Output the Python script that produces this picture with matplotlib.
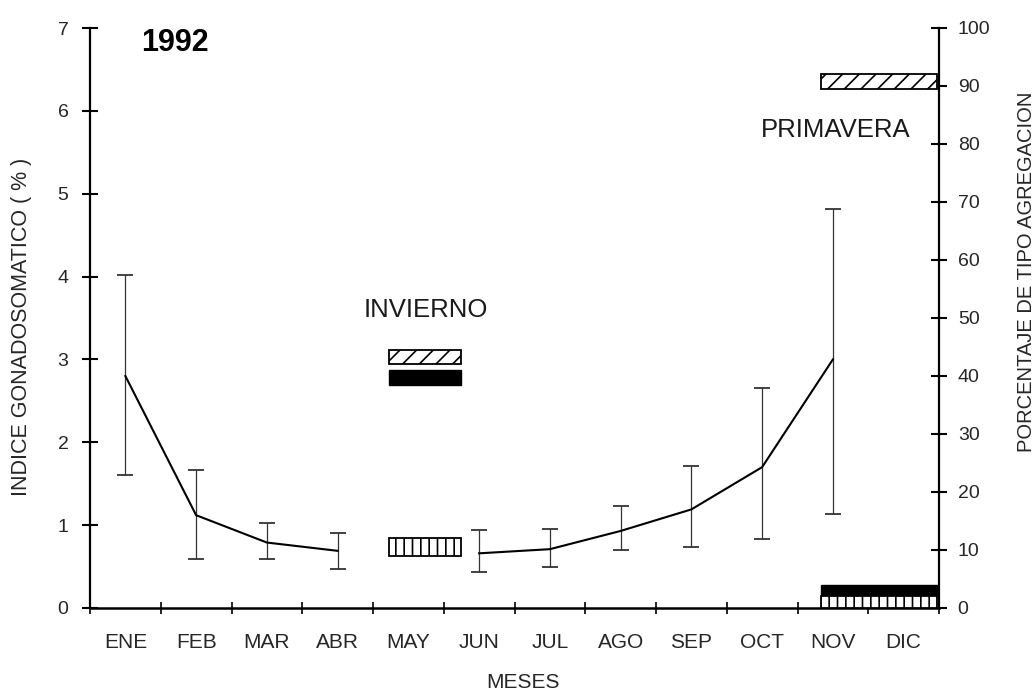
import numpy as np
import matplotlib
matplotlib.use("Agg")
import matplotlib.pyplot as plt

plt.rcParams["font.family"] = ["Liberation Sans", "DejaVu Sans"]
plt.rcParams["hatch.linewidth"] = 1.2

# Monthly gonadosomatic index (%), mean with upper/lower limits
months = ["ENE", "FEB", "MAR", "ABR", "MAY", "JUN",
          "JUL", "AGO", "SEP", "OCT", "NOV", "DIC"]
igs_mean = [2.80, 1.12, 0.79, 0.69, np.nan, 0.66, 0.71, 0.93, 1.19, 1.70, 3.00, np.nan]
igs_upper = [4.02, 1.67, 1.03, 0.91, np.nan, 0.94, 0.95, 1.23, 1.71, 2.65, 4.81, np.nan]
igs_lower = [1.61, 0.59, 0.59, 0.47, np.nan, 0.43, 0.50, 0.70, 0.74, 0.83, 1.14, np.nan]

# Percentage of each aggregation type per season (right axis)
seasons = ["INVIERNO", "PRIMAVERA"]
season_start = [4.23, 10.33]
season_end = [5.24, 11.97]
diag_low = [42.0, 89.5]
diag_high = [44.5, 92.0]
solid_low = [38.5, 2.0]
solid_high = [41.0, 4.0]
vert_low = [9.0, 0.0]
vert_high = [12.0, 2.0]

W, H = 1036, 695
fig = plt.figure(figsize=(W / 100, H / 100), dpi=100)
ax = fig.add_axes([90 / W, 1 - 608 / H, (939 - 90) / W, (608 - 28) / H])
ax2 = ax.twinx()

x = np.arange(len(months)) + 0.5
mean = np.array(igs_mean)
up = np.array(igs_upper)
lo = np.array(igs_lower)

ax.errorbar(x, mean, yerr=[mean - lo, up - mean], fmt="none",
            ecolor="0.2", elinewidth=0.9, capsize=6, capthick=1.3, zorder=2)
ax.plot(x, mean, color="black", lw=1.5, zorder=3)

ax.set_xlim(0, 12)
ax.set_ylim(0, 7)
ax2.set_ylim(0, 100)

ax.set_xticks(np.arange(13))
ax.set_xticks(x, minor=True)
ax.set_xticklabels(months, minor=True)
ax.tick_params(axis="x", which="major", direction="inout", length=8, width=1.2,
               labelbottom=False)
ax.tick_params(axis="x", which="minor", length=0, pad=18, labelsize=15,
               labelcolor="0.15")
ax.set_yticks(range(8))
ax.tick_params(axis="y", direction="inout", length=11, width=1.5, pad=10,
               labelsize=14, labelcolor="0.15")

ax2.set_yticks(range(0, 101, 10))
ax2.tick_params(axis="y", direction="inout", length=11, width=1.5, pad=8,
                labelsize=14, labelcolor="0.15")

for s in ["top", "right"]:
    ax.spines[s].set_visible(False)
for s in ["top", "left", "bottom"]:
    ax2.spines[s].set_visible(False)
ax.spines["left"].set_linewidth(1.6)
ax.spines["bottom"].set_linewidth(1.8)
ax2.spines["right"].set_linewidth(1.6)

start = np.array(season_start)
width = np.array(season_end) - start
ax2.bar(start, np.array(diag_high) - np.array(diag_low), bottom=diag_low,
        width=width, align="edge", facecolor="white", edgecolor="black",
        hatch="//", lw=1.3, zorder=4)
ax2.bar(start, np.array(solid_high) - np.array(solid_low), bottom=solid_low,
        width=width, align="edge", facecolor="black", edgecolor="black",
        lw=1.0, zorder=4)
ax2.bar(start, np.array(vert_high) - np.array(vert_low), bottom=vert_low,
        width=width, align="edge", facecolor="white", edgecolor="black",
        hatch="||", lw=1.3, zorder=4)

def px(xp, yp):
    return xp / W, 1 - yp / H

fig.text(*px(426, 310), seasons[0], ha="center", va="center", fontsize=18.5,
         color="0.1")
fig.text(*px(836, 130), seasons[1], ha="center", va="center", fontsize=18.5,
         color="0.1")
fig.text(*px(175, 43), "1992", ha="center", va="center", fontsize=22,
         fontweight="bold")
fig.text(*px(523, 683), "MESES", ha="center", va="center", fontsize=15,
         color="0.15")
fig.text(*px(22, 327), "INDICE GONADOSOMATICO ( % )", rotation=90,
         ha="center", va="center", fontsize=15.5, color="0.15")
fig.text(*px(1027, 272), "PORCENTAJE DE TIPO AGREGACION", rotation=90,
         ha="center", va="center", fontsize=14.5, color="0.15")

fig.savefig("out.png", dpi=100)
